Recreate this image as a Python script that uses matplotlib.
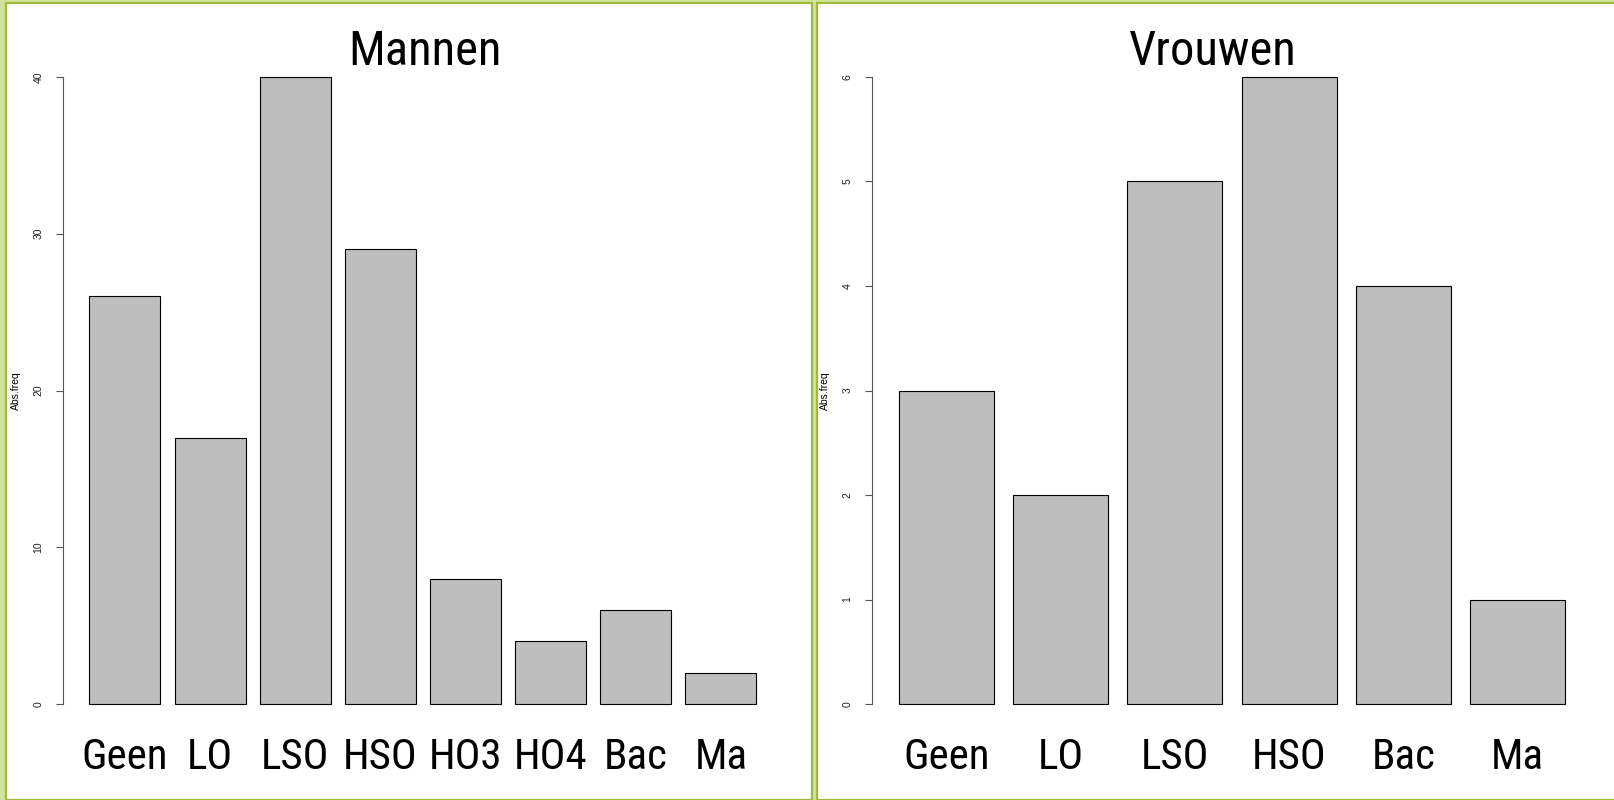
import matplotlib
matplotlib.use("Agg")
import matplotlib.pyplot as plt
from matplotlib.patches import Rectangle

# data
cats_m = ["Geen", "LO", "LSO", "HSO", "HO3", "HO4", "Bac", "Ma"]
vals_m = [26, 17, 40, 29, 8, 4, 6, 2]
ticks_m = [0, 10, 20, 30, 40]

cats_v = ["Geen", "LO", "LSO", "HSO", "Bac", "Ma"]
vals_v = [3, 2, 5, 6, 4, 1]
ticks_v = [0, 1, 2, 3, 4, 5, 6]

titles = ["Mannen", "Vrouwen"]
ylab = "Abs.freq"

narrow = ["Roboto Condensed", "Archivo Narrow", "PT Sans Narrow", "DejaVu Sans"]
plain = ["Liberation Sans", "DejaVu Sans"]
light_green = "#d0e29c"
dark_green = "#9dbb3a"

W, H = 1614, 800
fig = plt.figure(figsize=(W / 100, H / 100), dpi=100)
fig.patch.set_facecolor(light_green)


def px(x0, y0, x1, y1):
    # pixel box (top-left origin) -> figure fraction rect
    return [x0 / W, 1 - y1 / H, (x1 - x0) / W, (y1 - y0) / H]


# panel frames
fig.patches.append(Rectangle((6 / W, 0), (812 - 6) / W, 1 - 2.5 / H, transform=fig.transFigure,
                             facecolor="white", edgecolor=dark_green, linewidth=1.6, zorder=-5))
fig.patches.append(Rectangle((817 / W, 0), (W + 5 - 817) / W, 1 - 2.5 / H, transform=fig.transFigure,
                             facecolor="white", edgecolor=dark_green, linewidth=1.6, zorder=-5))

boxes = [px(62.8, 51.9, 783, 729.1), px(872, 51.9, 1592, 729.1)]
sets = [(cats_m, vals_m, ticks_m), (cats_v, vals_v, ticks_v)]
title_x = [0.503, 0.4736]

for box, (cats, vals, ticks), title, tx in zip(boxes, sets, titles, title_x):
    ax = fig.add_axes(box)
    ax.set_zorder(5)
    ax.patch.set_alpha(0)
    n = len(cats)
    pos = [0.7 + 1.2 * i for i in range(n)]
    ax.bar(pos, vals, width=1.0, color="#bebebe", edgecolor="black", linewidth=0.8)
    lo, hi = 0.2, 1.2 * n
    ext = 0.04 * (hi - lo)
    ax.set_xlim(lo - ext, hi + ext)
    top = max(ticks)
    ax.set_ylim(-0.04 * top, top * 1.04)

    for s in ["top", "right", "bottom"]:
        ax.spines[s].set_visible(False)
    ax.spines["left"].set_bounds(0, top)
    ax.spines["left"].set_linewidth(0.8)
    ax.spines["left"].set_color("#555555")
    ax.set_yticks(ticks)
    ax.set_yticklabels([str(t) for t in ticks], rotation=90, va="center",
                       fontsize=7.5, family=plain, color="#222222")
    ax.tick_params(axis="y", direction="out", length=5, width=0.8, pad=9, color="#555555")

    ax.set_xticks(pos)
    ax.set_xticklabels(cats, fontsize=31, family=narrow)
    ax.tick_params(axis="x", length=0, pad=6)

    ax.set_ylabel(ylab, fontsize=7.5, family=plain)
    ax.yaxis.set_label_coords(-42 / 720, 0.5)

    ax.text(tx, 1.0, title, transform=ax.transAxes, ha="center", va="center",
            fontsize=35, family=narrow)

fig.savefig("out.png", dpi=100, facecolor=fig.get_facecolor())
